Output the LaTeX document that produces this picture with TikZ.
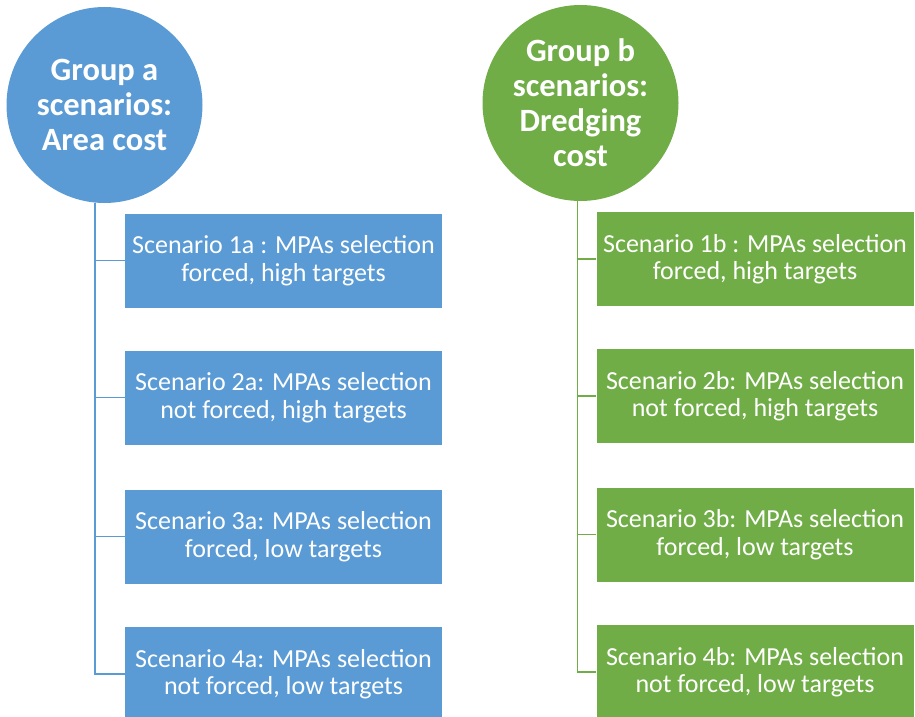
\documentclass[tikz,border=0pt]{standalone}
\usepackage{fontspec}
\setmainfont{Carlito}
\definecolor{gblue}{HTML}{5B9BD5}
\definecolor{ggreen}{HTML}{70AD47}
\begin{document}
\begin{tikzpicture}[x=1pt,y=-1pt,
  groupc/.style={circle,minimum size=196pt,inner sep=0pt,text=white,align=center,
    font=\fontsize{32.5}{35}\selectfont\bfseries},
  scen/.style={minimum width=317pt,minimum height=94pt,inner sep=0pt,text=white,align=center,
    font=\fontsize{26}{27.5}\selectfont},
  conn/.style={line width=1.3pt}]
\useasboundingbox (0,0) rectangle (915,717);
% group a
\node[groupc,fill=gblue] (ga) at (104.5,105) {Group a\\scenarios:\\Area cost};
\node[scen,fill=gblue] (a1) at (283.5,260.5) {Scenario 1a : MPAs selection\\forced, high targets};
\node[scen,fill=gblue] (a2) at (283.5,397.5) {Scenario 2a: MPAs selection\\not forced, high targets};
\node[scen,fill=gblue] (a3) at (283.5,536.5) {Scenario 3a: MPAs selection\\forced, low targets};
\node[scen,fill=gblue] (a4) at (283.5,674) {Scenario 4a: MPAs selection\\not forced, low targets};
\draw[conn,gblue] (95,0 |- ga.south) |- (a4.west);
\foreach \n in {a1,a2,a3}{\draw[conn,gblue] (95,0 |- \n.west) -- (\n.west);}
% group b
\node[groupc,fill=ggreen] (gb) at (580.5,103) {Group b\\scenarios:\\Dredging\\cost};
\node[scen,fill=ggreen] (b1) at (755,259) {Scenario 1b : MPAs selection\\forced, high targets};
\node[scen,fill=ggreen] (b2) at (755,396) {Scenario 2b: MPAs selection\\not forced, high targets};
\node[scen,fill=ggreen] (b3) at (755,534.5) {Scenario 3b: MPAs selection\\forced, low targets};
\node[scen,fill=ggreen] (b4) at (755,672) {Scenario 4b: MPAs selection\\not forced, low targets};
\draw[conn,ggreen] (577.5,0 |- gb.south) |- (b4.west);
\foreach \n in {b1,b2,b3}{\draw[conn,ggreen] (577.5,0 |- \n.west) -- (\n.west);}
\end{tikzpicture}
\end{document}
